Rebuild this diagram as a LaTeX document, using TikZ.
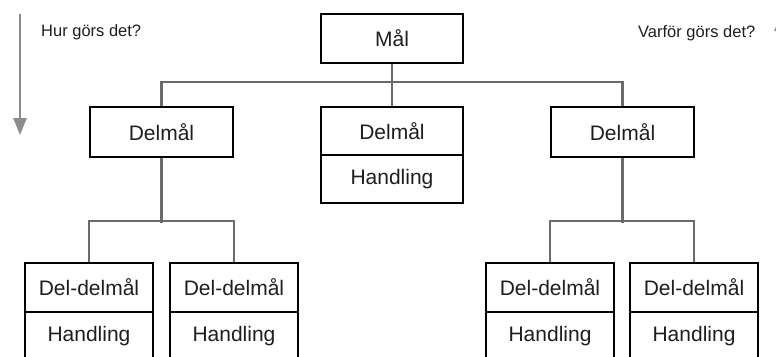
\documentclass[tikz,border=0pt]{standalone}
\usepackage{fontspec}
\setmainfont{Liberation Sans}
\usetikzlibrary{arrows.meta}
\definecolor{linkgray}{HTML}{6A6A6A}
\definecolor{arrowgray}{HTML}{8C8C8C}
\definecolor{ink}{HTML}{1E1E1E}
\begin{document}
\begin{tikzpicture}[x=1pt,y=-1pt,
  box/.style={draw=black,line width=2.4pt,rectangle,inner sep=0pt,
    minimum width=#1,text=ink,font=\fontsize{21}{25}\selectfont},
  box/.default=128pt,
  link/.style={draw=linkgray,line width=2.4pt},
  flow/.style={draw=arrowgray,line width=2.6pt,
    -{Triangle[width=13pt,length=17pt]}},
  note/.style={anchor=west,text=ink,font=\fontsize{16.5}{20}\selectfont,inner sep=0pt}]
\useasboundingbox (0,0) rectangle (776,356);
\clip (0,0) rectangle (776,356);

% side arrows and questions
\coordinate (downtop) at (20,14);
\coordinate (downtip) at (20,135);
\draw[flow] (downtop) -- (downtip);
\coordinate (uptop) at (781,14);
\coordinate (upfoot) at (781,135);
\draw[flow] (upfoot) -- (uptop);
\node[note] (how) at (41,32) {Hur görs det?};
\node[note] (why) at (638,33) {Varför görs det?};

% top goal
\node[box=142pt,minimum height=49pt] (mal) at (392,38.5) {Mål};

% sub-goals
\node[box=143pt,minimum height=50pt] (dl) at (161.5,132) {Delmål};
\node[box=142pt,minimum height=48pt] (dm) at (392,131) {Delmål};
\node[box=142pt,minimum height=48pt] (dmh) at (392,179) {Handling};
\node[box=143pt,minimum height=50pt] (dr) at (622.5,132) {Delmål};

% sub-sub-goals with actions
\node[box,minimum height=49pt] (a1) at (89,287.5) {Del-delmål};
\node[box,minimum height=49pt] (a1h) at (89,336.5) {Handling};
\node[box,minimum height=49pt] (a2) at (234,287.5) {Del-delmål};
\node[box,minimum height=49pt] (a2h) at (234,336.5) {Handling};
\node[box,minimum height=49pt] (b1) at (550,287.5) {Del-delmål};
\node[box,minimum height=49pt] (b1h) at (550,336.5) {Handling};
\node[box,minimum height=49pt] (b2) at (694,287.5) {Del-delmål};
\node[box,minimum height=49pt] (b2h) at (694,336.5) {Handling};

% tree connectors
\draw[link] (mal.south) -- (dm.north);
\draw[link] (dl.north) -- ++(0,-24) -| (dr.north);
\draw[link] (dl.south) -- ++(0,65) coordinate (lsplit);
\draw[link] (a1.north) -- ++(0,-41) -| (a2.north);
\draw[link] (dr.south) -- ++(0,65) coordinate (rsplit);
\draw[link] (b1.north) -- ++(0,-41) -| (b2.north);
\end{tikzpicture}
\end{document}
